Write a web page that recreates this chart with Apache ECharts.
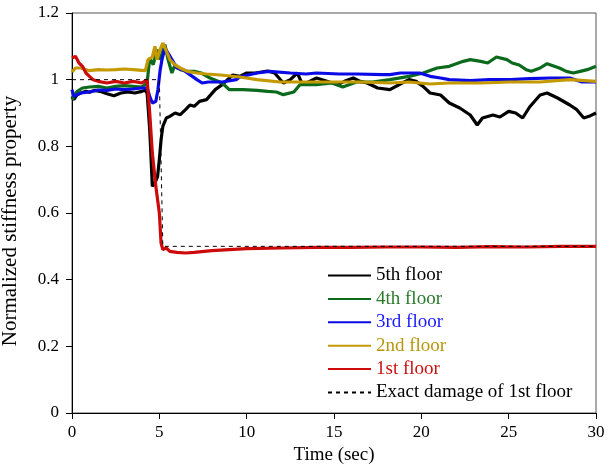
<!DOCTYPE html>
<html>
<head>
<meta charset="utf-8">
<script src="https://cdn.jsdelivr.net/npm/echarts@6/dist/echarts.min.js"></script>
<style>
  html, body { margin: 0; padding: 0; background: #fff; }
  #chart { width: 612px; height: 474px; }
</style>
</head>
<body>
<div id="chart"></div>
<script>
// time (sec) / normalized stiffness
const t5 = [0, 0.1, 0.3, 0.5, 0.8, 1.0, 1.3, 1.6, 2.0, 2.4, 2.8, 3.2, 3.6, 4.0, 4.2, 4.3, 4.45, 4.6, 4.75, 4.9, 5.0, 5.1, 5.2, 5.4, 5.6, 5.9, 6.2, 6.5, 6.75, 7.0, 7.3, 7.7, 8.2, 8.6, 9.2, 9.6, 10.0, 10.5, 11.2, 11.6, 12.1, 12.5, 12.9, 13.2, 13.6, 14.0, 14.6, 15.2, 15.6, 16.1, 16.5, 16.9, 17.5, 18.2, 18.9, 19.3, 19.7, 20.1, 20.5, 21.1, 21.6, 22.2, 22.8, 23.2, 23.5, 24.1, 24.5, 25.0, 25.4, 25.8, 26.2, 26.8, 27.2, 27.8, 28.5, 28.9, 29.3, 29.6, 30];
const v5 = [0.95, 0.94, 0.955, 0.96, 0.965, 0.962, 0.968, 0.965, 0.958, 0.952, 0.96, 0.963, 0.96, 0.965, 0.968, 0.96, 0.85, 0.68, 0.69, 0.71, 0.76, 0.82, 0.86, 0.885, 0.89, 0.9, 0.895, 0.91, 0.924, 0.92, 0.935, 0.94, 0.97, 0.985, 1.014, 1.01, 1.02, 1.02, 1.026, 1.02, 0.99, 1.0, 1.02, 0.985, 0.995, 1.005, 0.995, 0.985, 0.995, 1.005, 0.995, 0.99, 0.975, 0.97, 0.99, 1.0, 0.995, 0.98, 0.96, 0.954, 0.93, 0.915, 0.894, 0.864, 0.885, 0.894, 0.888, 0.905, 0.9, 0.885, 0.918, 0.954, 0.96, 0.945, 0.924, 0.91, 0.885, 0.89, 0.9];

const t4 = [0, 0.15, 0.3, 0.6, 1.0, 1.5, 2.0, 2.5, 3.0, 3.5, 4.0, 4.3, 4.45, 4.65, 4.87, 5.04, 5.32, 5.5, 5.72, 5.9, 6.2, 6.6, 7.0, 7.4, 7.9, 8.6, 9.0, 9.8, 10.6, 11.2, 11.7, 12.1, 12.7, 13.05, 14.0, 14.9, 15.5, 16.3, 17.2, 18.2, 19.3, 20.1, 20.9, 21.6, 22.4, 22.8, 23.4, 23.8, 24.3, 24.9, 25.2, 25.6, 26.0, 26.3, 26.8, 27.2, 27.9, 28.3, 28.7, 29.1, 29.5, 30];
const v4 = [0.94, 0.955, 0.965, 0.975, 0.978, 0.98, 0.975, 0.98, 0.982, 0.98, 0.978, 0.99, 1.065, 1.045, 1.09, 1.06, 1.105, 1.06, 1.02, 1.045, 1.03, 1.025, 1.025, 1.02, 1.005, 0.99, 0.97, 0.97, 0.968, 0.965, 0.963, 0.955, 0.963, 0.985, 0.985, 0.99, 0.978, 0.993, 0.993, 1.0, 1.01, 1.02, 1.035, 1.04, 1.055, 1.06, 1.055, 1.05, 1.068, 1.06, 1.05, 1.044, 1.03, 1.025, 1.035, 1.048, 1.035, 1.025, 1.02, 1.025, 1.03, 1.04];

const t3 = [0, 0.1, 0.2, 0.5, 1.0, 1.5, 2.0, 2.5, 3.0, 3.5, 4.0, 4.3, 4.45, 4.6, 4.8, 4.92, 5.05, 5.15, 5.32, 5.5, 5.72, 6.0, 6.35, 6.75, 7.15, 7.45, 7.8, 8.6, 9.4, 9.6, 10.6, 11.3, 12.5, 13.4, 14.0, 15.3, 16.3, 17.8, 18.2, 18.8, 19.3, 19.9, 20.5, 21.1, 21.6, 22.8, 23.9, 25.1, 26.2, 27.4, 28.5, 29.2, 30];
const v3 = [0.97, 0.95, 0.945, 0.96, 0.963, 0.969, 0.968, 0.972, 0.97, 0.972, 0.975, 0.975, 0.95, 0.93, 0.935, 0.97, 1.03, 1.06, 1.095, 1.08, 1.06, 1.035, 1.03, 1.015, 1.0, 0.99, 0.993, 0.993, 1.0, 1.008, 1.02, 1.025, 1.02, 1.017, 1.02, 1.017, 1.017, 1.015, 1.015, 1.02, 1.02, 1.02, 1.01, 1.005, 1.0, 0.997, 1.0, 1.0, 1.003, 1.005, 1.005, 0.993, 0.993];

const t2 = [0, 0.2, 0.5, 1.0, 1.5, 2.0, 2.5, 3.0, 3.5, 4.0, 4.2, 4.35, 4.6, 4.75, 4.87, 5.04, 5.2, 5.45, 5.6, 5.9, 6.2, 6.6, 7.15, 7.7, 8.5, 9.6, 10.6, 11.9, 13.05, 14.8, 16.5, 18.2, 19.3, 20.5, 21.6, 23.4, 25.1, 26.8, 28.5, 30];
const v2 = [1.023, 1.035, 1.035, 1.027, 1.03, 1.029, 1.03, 1.032, 1.03, 1.028, 1.027, 1.06, 1.068, 1.1, 1.06, 1.09, 1.11, 1.08, 1.06, 1.044, 1.035, 1.025, 1.02, 1.017, 1.014, 1.008, 1.0, 0.993, 0.993, 0.993, 0.993, 0.99, 0.993, 0.987, 0.99, 0.99, 0.993, 0.993, 1.0, 0.995];

const t1 = [0, 0.2, 0.4, 0.6, 0.8, 1.0, 1.2, 1.5, 2.0, 2.5, 3.0, 3.5, 4.0, 4.3, 4.45, 4.6, 4.8, 5.0, 5.1, 5.2, 5.4, 5.6, 6.0, 6.5, 7.0, 8.0, 9.0, 10.0, 12.0, 14.0, 16.0, 18.0, 20.0, 22.0, 24.0, 26.0, 28.0, 30];
const v1 = [1.065, 1.07, 1.05, 1.04, 1.02, 1.01, 1.0, 0.995, 0.99, 0.995, 0.99, 0.995, 0.99, 1.0, 0.9, 0.78, 0.68, 0.6, 0.51, 0.49, 0.495, 0.485, 0.482, 0.48, 0.482, 0.487, 0.49, 0.493, 0.495, 0.497, 0.497, 0.498, 0.498, 0.497, 0.499, 0.498, 0.5, 0.5];

const tExact = [0, 5.0, 5.2, 30];
const vExact = [1, 1, 0.5, 0.5];

const names = ['5th floor', '4th floor', '3rd floor', '2nd floor', '1st floor', 'Exact damage of 1st floor'];
const colors = ['#000000', '#0b6a1c', '#0a0ae6', '#c49a00', '#cc0a0a', '#000000'];
const textColors = ['#000000', '#2a7a2a', '#1a1aff', '#b8960c', '#cc1111', '#000000'];

const pairs = (t, v) => t.map((x, i) => [x, v[i]]);
const seriesData = [pairs(t5, v5), pairs(t4, v4), pairs(t3, v3), pairs(t2, v2), pairs(t1, v1), pairs(tExact, vExact)];

const font = 'Liberation Serif, Times New Roman, serif';
const chart = echarts.init(document.getElementById('chart'), null, { renderer: 'canvas' });

chart.setOption({
  animation: false,
  backgroundColor: '#fff',
  grid: {
    left: 72, right: 16, top: 13, bottom: 61,
    outerBoundsMode: 'none', containLabel: false,
    show: true, borderColor: '#555', borderWidth: 1
  },
  legend: {
    orient: 'vertical',
    left: 322, top: 261,
    itemWidth: 43, itemHeight: 14, itemGap: 4.4,
    itemStyle: { opacity: 0 },
    textStyle: { fontFamily: font, fontSize: 19, lineHeight: 19 },
    data: names.map((n, i) => ({ name: n, textStyle: { color: textColors[i] } }))
  },
  xAxis: {
    type: 'value', min: 0, max: 30, interval: 5,
    name: 'Time (sec)', nameLocation: 'middle', nameGap: 32,
    nameTextStyle: { fontFamily: font, fontSize: 19, color: '#000' },
    axisLine: { lineStyle: { color: '#000', width: 1 } },
    axisTick: { show: true, length: 6, inside: false, lineStyle: { color: '#000' } },
    axisLabel: { fontFamily: font, fontSize: 17, color: '#000', margin: 11 },
    splitLine: { show: false }
  },
  yAxis: {
    type: 'value', min: 0, max: 1.2, interval: 0.2,
    name: 'Normalized stiffness property', nameLocation: 'middle', nameGap: 51,
    nameTextStyle: { fontFamily: font, fontSize: 21, color: '#000', padding: [0, 16, 0, 0] },
    axisLine: { show: true, lineStyle: { color: '#000', width: 1 } },
    axisTick: { show: true, length: 6, inside: false, lineStyle: { color: '#000' } },
    axisLabel: { fontFamily: font, fontSize: 17, color: '#000', margin: 13 },
    splitLine: { show: false }
  },
  series: seriesData.map((d, i) => ({
    name: names[i],
    type: 'line',
    data: d,
    symbol: 'none',
    color: colors[i],
    lineStyle: i === 5
      ? { color: '#000', width: 1, type: [4, 4] }
      : { color: colors[i], width: 3.2 },
    z: i === 5 ? 10 : 2 + i
  }))
});
</script>
</body>
</html>
